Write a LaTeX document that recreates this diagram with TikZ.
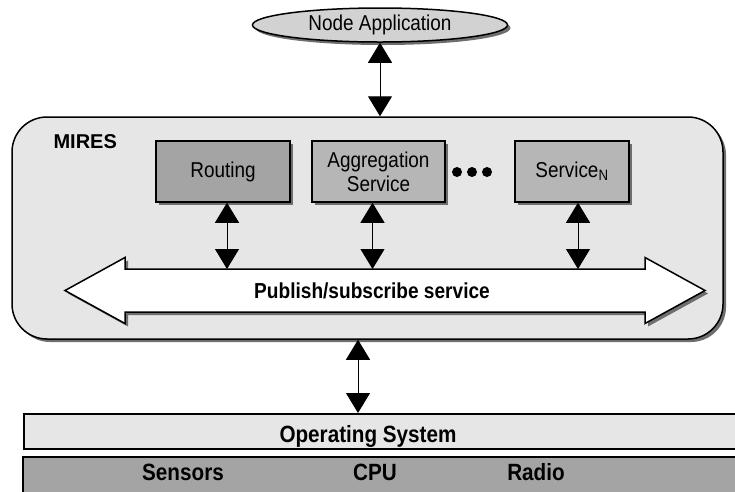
\documentclass[tikz,border=0pt]{standalone}
\usepackage{fontspec}
\setmainfont{Liberation Sans}[FakeStretch=0.88]
\newfontfamily\widefont{Liberation Sans}
\usetikzlibrary{arrows.meta,shapes.geometric,shadows}
\definecolor{lightbg}{HTML}{E6E6E6}
\definecolor{darkbox}{HTML}{A4A4A4}
\definecolor{midbox}{HTML}{B6B6B6}
\definecolor{ellfill}{HTML}{D2D2D2}
\definecolor{shadowc}{HTML}{6E6E6E}
\begin{document}
\begin{tikzpicture}[x=1pt,y=-1pt,
  shd/.style={drop shadow={shadow xshift=3pt,shadow yshift=-3pt,fill=shadowc,opacity=1}},
  box/.style={draw=black,line width=1.5pt,minimum height=61pt,inner sep=0pt,align=center,shd,
              font=\fontsize{21.5}{24}\selectfont},
  dbl/.style={line width=1pt,{Triangle[width=24pt,length=20pt]}-{Triangle[width=24pt,length=20pt]}},
  reg/.style={font=\fontsize{21.5}{24}\selectfont},
  bld/.style={font=\fontsize{23.5}{26}\selectfont\bfseries},
  dot/.style={circle,fill=black,minimum size=10pt,inner sep=0pt},
]
\useasboundingbox (0,0) rectangle (735,491);

% MIRES container
\node[draw=black,line width=1.5pt,rounded corners=35pt,fill=lightbg,shd,
      minimum width=711pt,minimum height=222pt,inner sep=0pt] (mires) at (367.5,228) {};
\node[font=\widefont\fontsize{20}{22}\selectfont\bfseries,anchor=base west] (mireslabel) at (50,148) {MIRES};

% top application
\node[ellipse,draw=black,line width=1.5pt,fill=ellfill,shd,minimum width=255pt,minimum height=34pt,
      inner sep=0pt,reg] (app) at (380,25) {Node Application};

% services
\node[box,fill=darkbox,minimum width=134pt] (routing) at (223,171.5) {Routing};
\node[box,fill=midbox,minimum width=133pt] (agg) at (378.5,171.5) {Aggregation\\Service};
\node[box,fill=midbox,minimum width=114pt] (svcn) at (572,171.5) {Service\textsubscript{N}};
\node[dot] (d1) at (457,172) {};
\node[dot] (d2) at (472,172) {};
\node[dot] (d3) at (487,172) {};

% publish/subscribe bus
\draw[fill=white,line width=1.5pt,shd]
  (65,290.5) -- (125,257.5) -- (125,269) -- (645,269) -- (645,257.5) -- (705,290.5)
  -- (645,323.5) -- (645,312) -- (125,312) -- (125,323.5) -- cycle;
\coordinate (bustop) at (372,269);
\node[font=\fontsize{21.7}{24}\selectfont\bfseries] (pub) at (372,291) {Publish/subscribe service};

% connectors
\draw[dbl] (app.south) -- (app.south |- mires.north);
\draw[dbl] ([xshift=4pt]routing.south) -- ([xshift=4pt]routing.south |- bustop);
\draw[dbl] ([xshift=-6pt]agg.south) -- ([xshift=-6pt]agg.south |- bustop);
\draw[dbl] ([xshift=6pt]svcn.south) -- ([xshift=6pt]svcn.south |- bustop);

% operating system and hardware
\node[draw=black,line width=1.5pt,fill=lightbg,anchor=north west,minimum width=725pt,
      minimum height=35pt,inner sep=0pt] (os) at (23,413) {};
\node[bld,anchor=base] (ostext) at (368,442) {Operating System};
\node[draw=black,line width=1.5pt,fill=darkbox,anchor=north west,minimum width=725pt,
      minimum height=45pt,inner sep=0pt] (hw) at (22,456) {};
\node[bld,anchor=base] (sensors) at (183,480) {Sensors};
\node[bld,anchor=base] (cpu) at (375,480) {CPU};
\node[bld,anchor=base] (radio) at (536,480) {Radio};

\coordinate (osx) at (358,0);
\draw[dbl] (mires.south -| osx) -- (os.north -| osx);
\end{tikzpicture}
\end{document}
